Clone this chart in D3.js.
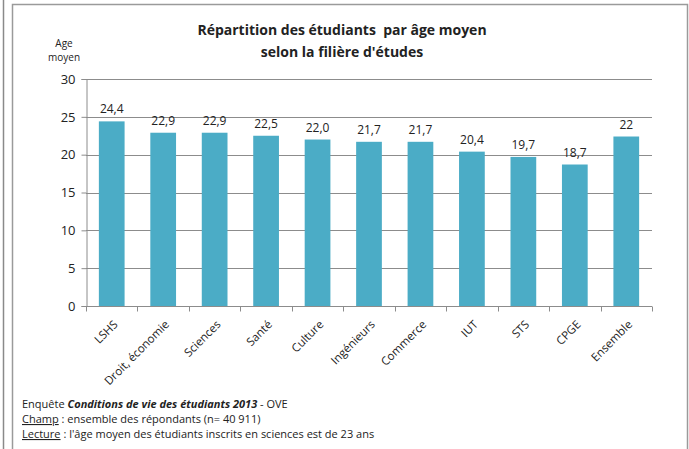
<!DOCTYPE html>
<html>
<head>
<meta charset="utf-8">
<script src="https://cdn.jsdelivr.net/npm/d3@7"></script>
<style>
  body { margin: 0; background: #fff; }
  svg text { font-family: "Open Sans", "Noto Sans", sans-serif; fill: #222; }
</style>
</head>
<body>
<div id="chart"></div>
<script>
// data
var categories = ["LSHS", "Droit, économie", "Sciences", "Santé", "Culture", "Ingénieurs",
                  "Commerce", "IUT", "STS", "CPGE", "Ensemble"];
var ages = [24.4, 22.9, 22.9, 22.5, 22.0, 21.7, 21.7, 20.4, 19.7, 18.7, 22.4];
var valueLabels = ["24,4", "22,9", "22,9", "22,5", "22,0", "21,7", "21,7", "20,4", "19,7", "18,7", "22"];
var yTicks = [0, 5, 10, 15, 20, 25, 30];

var svgWidth = 689;
var svgHeight = 449;

var margin = {top: 79, right: 37, bottom: 143, left: 86};
var chartWidth = svgWidth - margin.left - margin.right;
var chartHeight = svgHeight - margin.top - margin.bottom;

var svg = d3.select("#chart")
    .append("svg")
    .attr("width", svgWidth)
    .attr("height", svgHeight);

// frames
svg.append("line")
    .attr("x1", 3.5).attr("x2", 3.5).attr("y1", 0).attr("y2", svgHeight)
    .attr("stroke", "#8a8a8a").attr("stroke-width", 1.5);
svg.append("path")
    .attr("d", "M12.5," + svgHeight + "V4.5H687.5V" + svgHeight)
    .attr("fill", "none")
    .attr("stroke", "#9a9a9a")
    .attr("stroke-width", 1.5);

var chartGroup = svg.append("g")
    .attr("transform", `translate(${margin.left},${margin.top})`);

var xBandScale = d3.scaleBand()
    .domain(categories)
    .range([0, chartWidth])
    .paddingInner(0.5)
    .paddingOuter(0.25);

var yLinearScale = d3.scaleLinear()
    .domain([0, 30])
    .range([chartHeight, 0]);

// gridlines
chartGroup.append("g")
    .selectAll("line")
    .data(yTicks.filter(d => d > 0))
    .enter()
    .append("line")
    .attr("x1", 0)
    .attr("x2", chartWidth)
    .attr("y1", d => Math.round(yLinearScale(d)) + 0.5)
    .attr("y2", d => Math.round(yLinearScale(d)) + 0.5)
    .attr("stroke", "#8c8c8c");

// bars
chartGroup.selectAll("rect.bar")
    .data(ages)
    .enter()
    .append("rect")
    .attr("class", "bar")
    .attr("x", (d, i) => xBandScale(categories[i]))
    .attr("y", d => yLinearScale(d))
    .attr("width", xBandScale.bandwidth())
    .attr("height", d => chartHeight - yLinearScale(d))
    .attr("fill", "#4bacc6");

// value labels
chartGroup.selectAll("text.val")
    .data(ages)
    .enter()
    .append("text")
    .attr("class", "val")
    .attr("x", (d, i) => xBandScale(categories[i]) + xBandScale.bandwidth() / 2)
    .attr("y", d => yLinearScale(d) - 8)
    .attr("text-anchor", "middle")
    .style("font-size", "12px")
    .text((d, i) => valueLabels[i]);

// y axis
var leftAxis = d3.axisLeft(yLinearScale)
    .tickValues(yTicks)
    .tickSize(5)
    .tickPadding(6);
var yAxis = chartGroup.append("g")
    .attr("transform", "translate(0.5,0)")
    .call(leftAxis);
yAxis.select(".domain").attr("stroke", "#8c8c8c");
yAxis.selectAll(".tick line").attr("stroke", "#8c8c8c");
yAxis.selectAll(".tick text")
    .style("font-size", "13px")
    .style("font-family", "Open Sans, sans-serif")
    .attr("fill", "#222");

// x axis: line with tick marks on band boundaries
var step = xBandScale.step();
var bounds = d3.range(categories.length + 1).map(i => i * step);
var xAxis = chartGroup.append("g")
    .attr("transform", `translate(0, ${chartHeight + 0.5})`);
xAxis.append("line")
    .attr("x1", 0).attr("x2", chartWidth)
    .attr("stroke", "#8c8c8c");
xAxis.selectAll("line.tk")
    .data(bounds)
    .enter()
    .append("line")
    .attr("class", "tk")
    .attr("x1", d => Math.round(d) + 0.5)
    .attr("x2", d => Math.round(d) + 0.5)
    .attr("y1", 0).attr("y2", 5)
    .attr("stroke", "#8c8c8c");

xAxis.selectAll("text.cat")
    .data(categories)
    .enter()
    .append("text")
    .attr("class", "cat")
    .attr("text-anchor", "end")
    .attr("transform", d => `translate(${xBandScale(d) + xBandScale.bandwidth() / 2 + 1},13) rotate(-45)`)
    .attr("dy", "0.7em")
    .style("font-size", "11.5px")
    .text(d => d);

// title
svg.append("text")
    .attr("x", 342)
    .attr("y", 35)
    .attr("text-anchor", "middle")
    .style("font-size", "14px")
    .style("font-weight", "bold")
    .text("Répartition des étudiants  par âge moyen")
    .attr("xml:space", "preserve");
svg.append("text")
    .attr("x", 342)
    .attr("y", 57)
    .attr("text-anchor", "middle")
    .style("font-size", "14px")
    .style("font-weight", "bold")
    .text("selon la filière d'études");

// y axis title
svg.append("text")
    .attr("x", 64).attr("y", 47)
    .attr("text-anchor", "middle")
    .style("font-size", "10px")
    .text("Age");
svg.append("text")
    .attr("x", 64).attr("y", 61)
    .attr("text-anchor", "middle")
    .style("font-size", "10px")
    .text("moyen");

// footnote
var foot = svg.append("g").style("font-size", "11px");
var l1 = foot.append("text").attr("x", 22).attr("y", 408);
l1.append("tspan").text("Enquête ");
l1.append("tspan").style("font-weight", "bold").style("font-style", "italic").text("Conditions de vie des étudiants 2013");
l1.append("tspan").text(" - OVE");
var l2 = foot.append("text").attr("x", 22).attr("y", 423);
l2.append("tspan").attr("text-decoration", "underline").text("Champ");
l2.append("tspan").text(" : ensemble des répondants (n= 40 911)");
var l3 = foot.append("text").attr("x", 22).attr("y", 438);
l3.append("tspan").attr("text-decoration", "underline").text("Lecture");
l3.append("tspan").text(" : l'âge moyen des étudiants inscrits en sciences est de 23 ans");
</script>
</body>
</html>
